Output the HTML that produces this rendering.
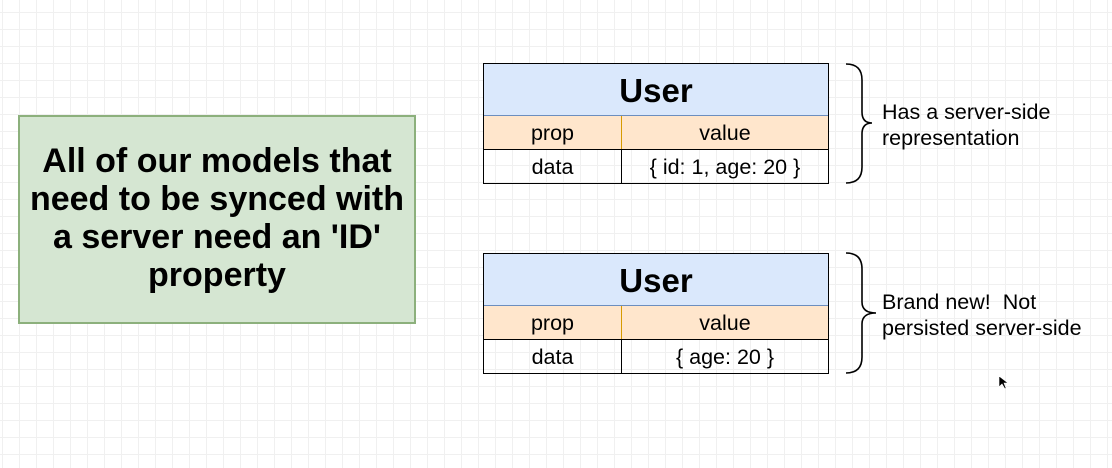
<!DOCTYPE html>
<html><head><meta charset="utf-8"><style>
html,body{margin:0;padding:0}
body{width:1112px;height:468px;position:relative;overflow:hidden;background-color:#fff;
background-image:linear-gradient(#f0f0f0 1px,transparent 1px),linear-gradient(90deg,#f0f0f0 1px,transparent 1px);
background-size:17px 17px;background-position:2px 12px;font-family:"Liberation Sans",Arial,sans-serif;color:#000}
.green{position:absolute;left:18px;top:115px;width:394px;height:205px;background:#d5e6d2;border:2px solid #8cb07c;
display:flex;align-items:center;justify-content:center;text-align:center;font-weight:bold;font-size:34px;line-height:38px;padding-bottom:4px;box-sizing:content-box}
.tbl{position:absolute;left:483px;width:344px;border:1px solid #000}
.hd{height:51px;background:#dae8fc;border-bottom:1px solid #6c8ebf;font-weight:bold;font-size:33px;line-height:53px;text-align:center}
.row{display:flex;height:33px;line-height:35px;font-size:21.5px;text-align:center}
.row div:first-child{width:137px;border-right:1px solid #000}
.row div:last-child{flex:1}
.pr{background:#ffe6cc;border-bottom:1px solid #000}
.pr div:first-child{border-right-color:#d79b00}
.lbl{position:absolute;left:882px;font-size:21.5px;line-height:26px}
</style></head><body>
<div class="green" style="height:201px">All of our models that<br>need to be synced with<br>a server need an 'ID'<br>property</div>

<div class="tbl" style="top:63px">
<div class="hd">User</div>
<div class="row pr"><div>prop</div><div>value</div></div>
<div class="row"><div>data</div><div>{ id: 1, age: 20 }</div></div>
</div>
<div class="tbl" style="top:253px">
<div class="hd">User</div>
<div class="row pr"><div>prop</div><div>value</div></div>
<div class="row"><div>data</div><div>{ age: 20 }</div></div>
</div>

<svg width="1112" height="468" style="position:absolute;left:0;top:0" fill="none" stroke="#000" stroke-width="1.6">
<path d="M846 64 Q862 64 862 80 L862 112 Q862 123 872 123 Q862 123 862 134 L862 167 Q862 183 846 183"/>
<path d="M846 253 Q862 253 862 269 L862 302 Q862 313 876 313 Q862 313 862 324 L862 357 Q862 373 846 373"/>
<path d="M999 376 L999 387 L1002 384 L1005 389 L1006 388 L1004 383 L1008 383 Z" fill="#000" stroke="#fff" stroke-width="0.6"/>
</svg>
<div class="lbl" style="top:99px">Has a server-side<br>representation</div>
<div class="lbl" style="top:289px">Brand new!&nbsp; Not<br>persisted server-side</div>
</body></html>
